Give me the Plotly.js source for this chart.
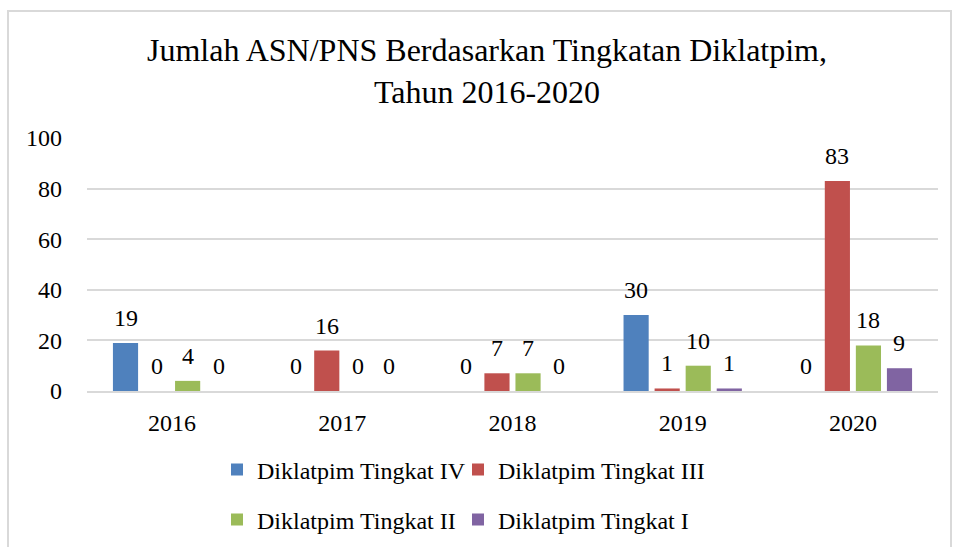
<!DOCTYPE html>
<html>
<head>
<meta charset="utf-8">
<script src="https://cdn.plot.ly/plotly-3.0.1.min.js"></script>
<style>
  html, body { margin: 0; padding: 0; background: #ffffff; }
  #frame { position: absolute; left: 7px; top: 10px; width: 941px; height: 560px; border: 2px solid #d9d9d9; }
  #chart { position: absolute; left: 0; top: 0; width: 955px; height: 547px; }
</style>
</head>
<body>
<div id="frame"></div>
<div id="chart"></div>
<script>
const years = ['2016', '2017', '2018', '2019', '2020'];
const seriesNames = ['Diklatpim Tingkat IV', 'Diklatpim Tingkat III', 'Diklatpim Tingkat II', 'Diklatpim Tingkat I'];
const tingkatIV = [19, 0, 0, 30, 0];
const tingkatIII = [0, 16, 7, 1, 83];
const tingkatII = [4, 0, 7, 10, 18];
const tingkatI = [0, 0, 0, 1, 9];
const colors = ['#4F81BD', '#C0504D', '#9BBB59', '#8064A2'];
const yTicks = [0, 20, 40, 60, 80, 100];

const FONT = 'Liberation Serif';
const BARGAP = 0.27;
const allValues = [tingkatIV, tingkatIII, tingkatII, tingkatI];
const legendIds = ['legend', 'legend2', 'legend3', 'legend4'];

const traces = allValues.map((vals, i) => ({
  type: 'bar',
  name: seriesNames[i],
  x: years,
  y: vals,
  marker: { color: colors[i] },
  legend: legendIds[i],
  hoverinfo: 'x+y+name'
}));

// data labels, placed on each bar's slot within the group
const nSeries = allValues.length;
const slot = (1 - BARGAP) / nSeries;
const annotations = [];
allValues.forEach((vals, s) => {
  vals.forEach((v, c) => {
    annotations.push({
      xref: 'x', yref: 'y',
      x: c + (s - (nSeries - 1) / 2) * slot,
      y: v,
      text: String(v),
      showarrow: false,
      xanchor: 'center',
      yanchor: 'middle',
      yshift: 25,
      font: { family: FONT, size: 24, color: '#000000' }
    });
  });
});

const legendBase = {
  orientation: 'h',
  xanchor: 'left',
  yanchor: 'middle',
  xref: 'paper',
  yref: 'container',
  font: { family: FONT, size: 24, color: '#000000' },
  bgcolor: 'rgba(0,0,0,0)'
};
const px = v => (v - 87) / 851;
const py = v => 1 - v / 547;

const layout = {
  width: 955,
  height: 547,
  paper_bgcolor: 'rgba(0,0,0,0)',
  plot_bgcolor: 'rgba(0,0,0,0)',
  margin: { l: 87, r: 17, t: 138, b: 156 },
  title: {
    text: 'Jumlah ASN/PNS Berdasarkan Tingkatan Diklatpim,<br>Tahun 2016-2020',
    font: { family: FONT, size: 32, color: '#000000' },
    x: 487 / 955,
    xanchor: 'center',
    y: 1 - 61 / 547,
    yanchor: 'middle',
    yref: 'container'
  },
  barmode: 'group',
  bargap: BARGAP,
  bargroupgap: 0.19,
  xaxis: {
    type: 'category',
    tickfont: { family: FONT, size: 24, color: '#000000' },
    showgrid: false,
    showline: true,
    linecolor: '#d9d9d9',
    linewidth: 2,
    ticks: '',
    ticklabelstandoff: 9,
    fixedrange: true
  },
  yaxis: {
    range: [0, 100],
    tickvals: yTicks,
    ticktext: yTicks.map(String),
    tickfont: { family: FONT, size: 24, color: '#000000' },
    showgrid: true,
    gridcolor: '#d9d9d9',
    gridwidth: 2,
    zeroline: false,
    showline: false,
    ticks: '',
    ticklabelstandoff: 24,
    fixedrange: true
  },
  annotations: annotations,
  legend: Object.assign({}, legendBase, { x: px(217), y: py(470) }),
  legend2: Object.assign({}, legendBase, { x: px(458), y: py(470) }),
  legend3: Object.assign({}, legendBase, { x: px(217), y: py(520) }),
  legend4: Object.assign({}, legendBase, { x: px(458), y: py(520) }),
  showlegend: true
};

Plotly.newPlot('chart', traces, layout, { displayModeBar: false, staticPlot: true });
</script>
</body>
</html>
